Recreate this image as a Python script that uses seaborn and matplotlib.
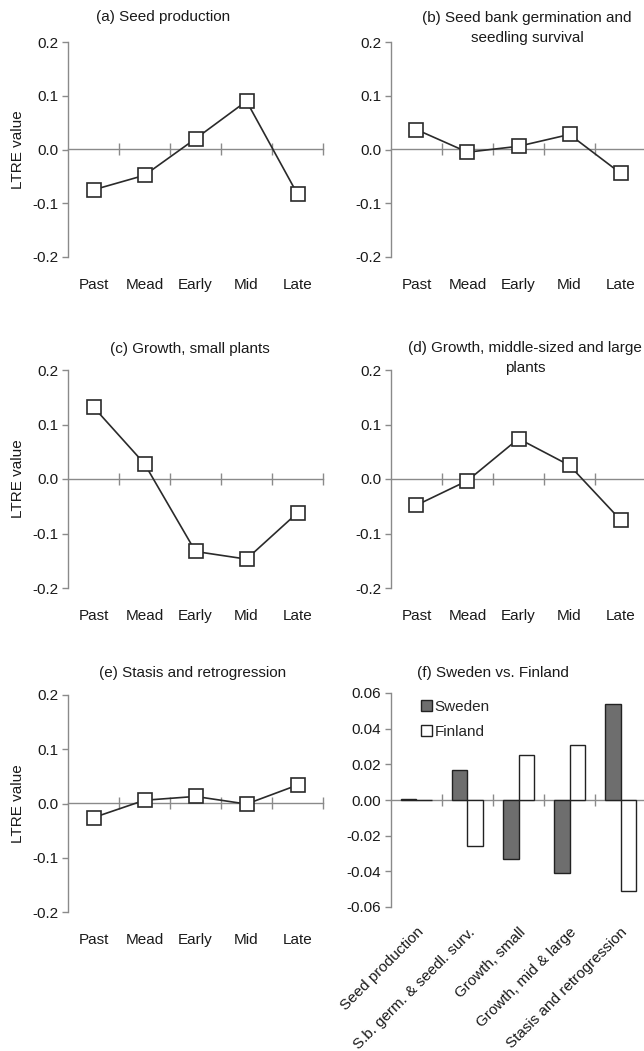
import numpy as np
import pandas as pd
import matplotlib
matplotlib.use("Agg")
import matplotlib.pyplot as plt
import seaborn as sns

sns.set_style("white")
plt.rcParams['font.family'] = ['Liberation Sans', 'DejaVu Sans']

# data
stages = ['Past', 'Mead', 'Early', 'Mid', 'Late']
seed_production = [-0.075, -0.048, 0.020, 0.090, -0.083]
seed_bank = [0.037, -0.005, 0.006, 0.028, -0.044]
growth_small = [0.132, 0.028, -0.133, -0.147, -0.062]
growth_large = [-0.048, -0.003, 0.074, 0.025, -0.075]
stasis = [-0.026, 0.006, 0.013, -0.001, 0.034]

components = ['Seed production', 'S.b. germ. & seedl. surv.', 'Growth, small',
              'Growth, mid & large', 'Stasis and retrogression']
sweden = [0.0006, 0.017, -0.033, -0.041, 0.054]
finland = [0.0, -0.026, 0.025, 0.031, -0.051]

W, H = 644, 1051
AXC = '#8a8a8a'
LINEC = '#2a2a2a'
TXT = '#1a1a1a'
FS = 11

fig = plt.figure(figsize=(W / 100, H / 100), dpi=100)


def box(x0, y_top, x1, y_bot):
    # pixel box -> figure fraction
    return [x0 / W, 1 - y_bot / H, (x1 - x0) / W, (y_bot - y_top) / H]


def style_axes(ax, ylim, yticks, ylabels, ylabel=None):
    ax.set_xlim(-0.5, 4.5)
    ax.set_ylim(*ylim)
    for s in ['top', 'right', 'bottom']:
        ax.spines[s].set_visible(False)
    ax.spines['left'].set_color(AXC)
    ax.spines['left'].set_linewidth(1.0)
    ax.set_yticks(yticks)
    ax.set_yticklabels(ylabels)
    ax.tick_params(axis='y', direction='out', length=4, width=1.0, color=AXC,
                   labelsize=FS, labelcolor=TXT, pad=3, left=True)
    ax.tick_params(axis='x', length=0, labelsize=FS, labelcolor=TXT)
    ax.set_xlabel('')
    ax.set_ylabel(ylabel if ylabel else '', fontsize=FS, color=TXT, labelpad=5)
    # category axis crossing at zero
    sec = ax.secondary_xaxis(0.5)
    sec.set_xticks([0.5, 1.5, 2.5, 3.5, 4.5])
    sec.set_xticklabels([])
    sec.tick_params(direction='inout', length=8, width=1.0, color=AXC)
    for s in sec.spines.values():
        s.set_color(AXC)
        s.set_linewidth(1.0)
    ax.grid(False)


def line_panel(ax, values, ylabel=None):
    sns.lineplot(x=stages, y=values, ax=ax, color=LINEC, linewidth=1.2,
                 marker='s', markersize=9.5, markerfacecolor='white',
                 markeredgecolor=LINEC, markeredgewidth=1.2, zorder=5)
    style_axes(ax, (-0.2, 0.2), [0.2, 0.1, 0.0, -0.1, -0.2],
               ['0.2', '0.1', '0.0', '-0.1', '-0.2'], ylabel)
    ax.tick_params(axis='x', pad=15)


lx0, lx1 = 68, 323
rx0, rx1 = 391, 646

ax_a = fig.add_axes(box(lx0, 42, lx1, 257))
line_panel(ax_a, seed_production, 'LTRE value')
ax_b = fig.add_axes(box(rx0, 42, rx1, 257))
line_panel(ax_b, seed_bank)
ax_c = fig.add_axes(box(lx0, 370, lx1, 588))
line_panel(ax_c, growth_small, 'LTRE value')
ax_d = fig.add_axes(box(rx0, 370, rx1, 588))
line_panel(ax_d, growth_large)
ax_e = fig.add_axes(box(lx0, 695, lx1, 912))
line_panel(ax_e, stasis, 'LTRE value')

# (f) bar panel
ax_f = fig.add_axes(box(rx0, 693, rx1, 907))
df = pd.DataFrame({
    'component': components * 2,
    'country': ['Sweden'] * 5 + ['Finland'] * 5,
    'value': sweden + finland,
})
sns.barplot(data=df, x='component', y='value', hue='country', ax=ax_f,
            palette={'Sweden': '#6e6e6e', 'Finland': 'white'},
            edgecolor='#222222', linewidth=1.0, width=0.62, zorder=3)
style_axes(ax_f, (-0.06, 0.06), [0.06, 0.04, 0.02, 0.0, -0.02, -0.04, -0.06],
           ['0.06', '0.04', '0.02', '0.00', '-0.02', '-0.04', '-0.06'])
ax_f.set_xticks(range(5))
ax_f.set_xticklabels(components, rotation=45, ha='right', rotation_mode='anchor')
ax_f.tick_params(axis='x', pad=13)
handles, labels = ax_f.get_legend_handles_labels()
ax_f.legend(handles, labels, loc='upper left', bbox_to_anchor=(0.08, 1.01),
            frameon=False, fontsize=FS, handlelength=0.75, handleheight=0.75,
            handletextpad=0.15, labelspacing=0.7, borderaxespad=0.2)

# panel titles
titles = [
    ('(a) Seed production', 163, 17),
    ('(b) Seed bank germination and\nseedling survival', 527, 28),
    ('(c) Growth, small plants', 190, 349),
    ('(d) Growth, middle-sized and large\nplants', 525, 358),
    ('(e) Stasis and retrogression', 193, 673),
    ('(f) Sweden vs. Finland', 493, 673),
]
for txt, x, y in titles:
    fig.text(x / W, 1 - y / H, txt, ha='center', va='center', fontsize=FS,
             color=TXT, linespacing=1.5)

fig.savefig('out.png', dpi=100, facecolor='white')
